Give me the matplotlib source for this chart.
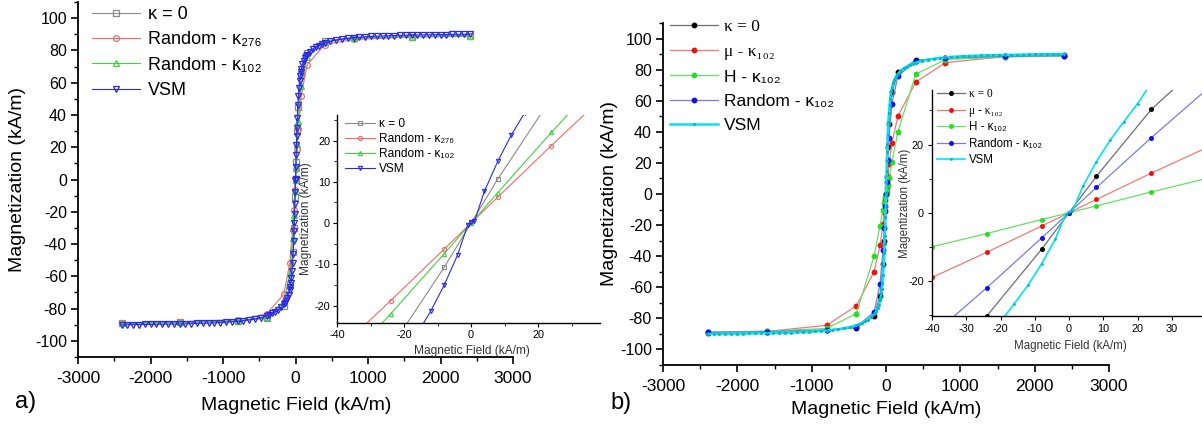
import matplotlib
matplotlib.use('Agg')
import matplotlib.pyplot as plt
from matplotlib.ticker import MultipleLocator

plt.rcParams['font.family'] = ['Liberation Sans', 'DejaVu Sans']
plt.rcParams['axes.unicode_minus'] = False

# ---------------- data ----------------
H_sim = [-2400, -1600, -800, -400, -160, -80, -40, -24, -8, 0,
         8, 24, 40, 80, 160, 400, 800, 1600, 2400]
M_k0 = [-89.2, -88.6, -87.6, -86.0, -78.5, -65.5, -45.0, -30.3, -10.7, 0.0,
        10.7, 30.3, 45.0, 65.5, 78.5, 86.0, 87.6, 88.6, 89.2]
M_rand276 = [-88.8, -88.2, -86.8, -83.5, -71.0, -52.0, -31.0, -18.8, -6.3, 0.0,
             6.3, 18.8, 31.0, 52.0, 71.0, 83.5, 86.8, 88.2, 88.8]
M_rand102 = [-89.0, -88.5, -87.5, -85.5, -76.0, -58.0, -36.0, -22.0, -7.4, 0.0,
             7.4, 22.0, 36.0, 58.0, 76.0, 85.5, 87.5, 88.5, 89.0]
M_mu102 = [-89.0, -88.4, -84.5, -72.0, -50.0, -33.0, -19.0, -11.6, -3.9, 0.0,
           3.9, 11.6, 19.0, 33.0, 50.0, 72.0, 84.5, 88.4, 89.0]
M_H102 = [-88.8, -88.2, -86.5, -77.0, -40.0, -20.5, -10.0, -6.1, -2.0, 0.0,
          2.0, 6.1, 10.0, 20.5, 40.0, 77.0, 86.5, 88.2, 88.8]

H_vsm = [-2400, -2320, -2240, -2160, -2080, -2000, -1920, -1840, -1760, -1680,
         -1600, -1520, -1440, -1360, -1280, -1200, -1120, -1040, -960, -880,
         -800, -720, -640, -560, -480, -400, -360, -320, -280, -240,
         -200, -160, -144, -128, -112, -96, -80, -72, -64, -56,
         -48, -40, -32, -24, -20, -16, -12, -8, -4, -1,
         0, 1, 4, 8, 12, 16, 20, 24, 32, 40,
         48, 56, 64, 72, 80, 96, 112, 128, 144, 160,
         200, 240, 280, 320, 360, 400, 480, 560, 640, 720,
         800, 880, 960, 1040, 1120, 1200, 1280, 1360, 1440, 1520,
         1600, 1680, 1760, 1840, 1920, 2000, 2080, 2160, 2240, 2320, 2400]
M_vsm = [-90.05, -90.0, -89.95, -89.9, -89.85, -89.8, -89.75, -89.7, -89.6, -89.55,
         -89.5, -89.4, -89.3, -89.2, -89.1, -88.95, -88.8, -88.65, -88.45, -88.2,
         -87.9, -87.5, -87.0, -86.4, -85.6, -84.5, -83.8, -83.0, -82.0, -80.8,
         -79.3, -77.3, -76.3, -75.0, -73.5, -71.5, -68.5, -66.5, -64.0, -61.0,
         -57.0, -52.0, -46.0, -38.0, -32.0, -26.7, -21.3, -15.0, -7.7, -0.5,
         0.3, 0.4, 7.7, 15.0, 21.3, 26.7, 32.0, 38.0, 46.0, 52.0,
         57.0, 61.0, 64.0, 66.5, 68.5, 71.5, 73.5, 75.0, 76.3, 77.3,
         79.3, 80.8, 82.0, 83.0, 83.8, 84.5, 85.6, 86.4, 87.0, 87.5,
         87.9, 88.2, 88.45, 88.65, 88.8, 88.95, 89.1, 89.2, 89.3, 89.4,
         89.5, 89.55, 89.6, 89.7, 89.75, 89.8, 89.85, 89.9, 89.95, 90.0, 90.05]

labels_a = ['κ = 0', 'Random - κ₂₇₆', 'Random - κ₁₀₂', 'VSM']
labels_b = ['κ = 0', 'μ - κ₁₀₂', 'H - κ₁₀₂', 'Random - κ₁₀₂', 'VSM']
serif_rows_b = [0, 1]

x_label = 'Magnetic Field (kA/m)'
y_label = 'Magnetization (kA/m)'
y_label_b_inset = 'Magentization (kA/m)'

# ---------------- layout helpers ----------------
W, Hpx = 1202, 426
fig = plt.figure(figsize=(W / 100, Hpx / 100), dpi=100)


def box(x0, x1, top, bottom):
    return [x0 / W, (Hpx - bottom) / Hpx, (x1 - x0) / W, (bottom - top) / Hpx]


def fx(x):
    return x / W


def fy(y):
    return 1 - y / Hpx


def style_axes(ax, lw=1.2):
    for s in ['top', 'right']:
        ax.spines[s].set_visible(False)
    for s in ['left', 'bottom']:
        ax.spines[s].set_linewidth(lw)


# series styles (left panel)
st_a = [dict(color='#8a8a8a', marker='s'), dict(color='#f06a6a', marker='o'),
        dict(color='#3fd23f', marker='^'), dict(color='#2a2ae8', marker='v')]
M_a = [M_k0, M_rand276, M_rand102, M_vsm]
H_a = [H_sim, H_sim, H_sim, H_vsm]

# ---------------- panel a: main ----------------
axa = fig.add_axes(box(78, 513, 2, 357))
style_axes(axa, 1.3)
for Hs, Ms, st, lab in zip(H_a, M_a, st_a, labels_a):
    axa.plot(Hs, Ms, color=st['color'], lw=0.8, marker=st['marker'], ms=4.2,
             mfc='none', mec=st['color'], mew=0.9, label=lab)
axa.set_xlim(-3000, 3000)
axa.set_ylim(-110, 110)
axa.xaxis.set_major_locator(MultipleLocator(1000))
axa.xaxis.set_minor_locator(MultipleLocator(500))
axa.yaxis.set_major_locator(MultipleLocator(20))
axa.yaxis.set_minor_locator(MultipleLocator(10))
axa.tick_params(axis='both', which='major', direction='out', length=5, width=1.2)
axa.tick_params(axis='both', which='minor', direction='out', length=3, width=1.0)
axa.tick_params(axis='x', labelsize=12.5, pad=5)
axa.tick_params(axis='y', labelsize=11.5, pad=3)
axa.set_xlabel(x_label, fontsize=14, va='center')
axa.set_ylabel(y_label, fontsize=14, va='center')
axa.xaxis.set_label_coords(fx(296), fy(405), transform=fig.transFigure)
axa.yaxis.set_label_coords(fx(18), fy(180), transform=fig.transFigure)
axa.legend(loc='upper left', bbox_to_anchor=(fx(92), fy(6)), bbox_transform=fig.transFigure,
           frameon=False, fontsize=13, borderpad=0, borderaxespad=0,
           handlelength=2.65, handletextpad=0.45, labelspacing=0.46)
fig.text(fx(26), fy(402), 'a)', fontsize=17, ha='center', va='center')

# ---------------- panel a: inset ----------------
axai = fig.add_axes(box(337, 600, 115, 323))
style_axes(axai, 1.0)
axai.set_facecolor('none')
for Hs, Ms, st, lab in zip(H_a, M_a, st_a, labels_a):
    axai.plot(Hs, Ms, color=st['color'], lw=0.8, marker=st['marker'], ms=3.0,
              mfc='none', mec=st['color'], mew=0.8, label=lab)
axai.set_xlim(-40, 38.5)
axai.set_ylim(-24.2, 26.2)
axai.xaxis.set_major_locator(MultipleLocator(20))
axai.xaxis.set_minor_locator(MultipleLocator(10))
axai.yaxis.set_major_locator(MultipleLocator(10))
axai.yaxis.set_minor_locator(MultipleLocator(5))
axai.tick_params(which='major', direction='out', length=3, width=0.8, labelsize=7.8, pad=2)
axai.tick_params(which='minor', direction='out', length=2, width=0.6)
axai.set_xlabel(x_label, fontsize=8.6, va='center', color='#333333')
axai.set_ylabel(y_label, fontsize=8.6, va='center', color='#333333')
axai.xaxis.set_label_coords(fx(472), fy(351), transform=fig.transFigure)
axai.yaxis.set_label_coords(fx(306), fy(219), transform=fig.transFigure)
axai.legend(loc='upper left', bbox_to_anchor=(fx(345), fy(118)), bbox_transform=fig.transFigure,
            frameon=False, fontsize=8.6, borderpad=0, borderaxespad=0,
            handlelength=2.5, handletextpad=0.35, labelspacing=0.26)

# ---------------- panel b ----------------
H_b = [H_sim, H_sim, H_sim, H_sim, H_vsm]
M_b = [M_k0, M_mu102, M_H102, M_rand102, M_vsm]
line_b = ['#6e6e6e', '#f07a7a', '#66e066', '#7a7ae6', '#00e5ee']
mark_b = ['#000000', '#ee1111', '#22e022', '#1010ee', '#00b8c8']
lw_b = [0.9, 0.9, 0.9, 0.9, 1.8]
ms_b = [3.2, 3.2, 3.2, 3.2, 1.2]

axb = fig.add_axes(box(663, 1109, 23, 365))
style_axes(axb, 1.3)
for Hs, Ms, lc, mc, lw, ms, lab in zip(H_b, M_b, line_b, mark_b, lw_b, ms_b, labels_b):
    axb.plot(Hs, Ms, color=lc, lw=lw, marker='o', ms=ms, mfc=mc, mec=mc, label=lab)
axb.set_xlim(-3000, 3000)
axb.set_ylim(-110, 110)
axb.xaxis.set_major_locator(MultipleLocator(1000))
axb.xaxis.set_minor_locator(MultipleLocator(500))
axb.yaxis.set_major_locator(MultipleLocator(20))
axb.yaxis.set_minor_locator(MultipleLocator(10))
axb.tick_params(axis='both', which='major', direction='out', length=5, width=1.2)
axb.tick_params(axis='both', which='minor', direction='out', length=3, width=1.0)
axb.tick_params(axis='x', labelsize=12.5, pad=5)
axb.tick_params(axis='y', labelsize=11.5, pad=3)
axb.set_xlabel(x_label, fontsize=14, va='center')
axb.set_ylabel(y_label, fontsize=14, va='center')
axb.xaxis.set_label_coords(fx(886), fy(410), transform=fig.transFigure)
axb.yaxis.set_label_coords(fx(610), fy(194), transform=fig.transFigure)
leg_b = axb.legend(loc='upper left', bbox_to_anchor=(fx(670), fy(19)), bbox_transform=fig.transFigure,
                   frameon=False, fontsize=12.5, borderpad=0, borderaxespad=0,
                   handlelength=2.75, handletextpad=0.35, labelspacing=0.52)
for i in serif_rows_b:
    leg_b.get_texts()[i].set_fontfamily(['Liberation Serif', 'DejaVu Serif'])
fig.text(fx(621), fy(403), 'b)', fontsize=17, ha='center', va='center')

axbi = fig.add_axes(box(932, 1202, 90, 316))
style_axes(axbi, 1.0)
axbi.set_facecolor('none')
for Hs, Ms, lc, mc, lw, ms, lab in zip(H_b, M_b, line_b, mark_b, lw_b, ms_b, labels_b):
    axbi.plot(Hs, Ms, color=lc, lw=min(lw, 1.2), marker='o', ms=ms * 0.8, mfc=mc, mec=mc, label=lab)
axbi.set_xlim(-40, 38.8)
axbi.set_ylim(-30.3, 36)
axbi.xaxis.set_major_locator(MultipleLocator(10))
axbi.yaxis.set_major_locator(MultipleLocator(20))
axbi.yaxis.set_minor_locator(MultipleLocator(10))
axbi.tick_params(which='major', direction='out', length=3, width=0.8, labelsize=7.8, pad=3)
axbi.tick_params(which='minor', direction='out', length=2, width=0.6)
axbi.set_xlabel(x_label, fontsize=8.3, va='center', color='#333333')
axbi.set_ylabel(y_label_b_inset, fontsize=8.3, va='center', color='#333333')
axbi.xaxis.set_label_coords(fx(1070), fy(346), transform=fig.transFigure)
axbi.yaxis.set_label_coords(fx(905), fy(203), transform=fig.transFigure)
leg_bi = axbi.legend(loc='upper left', bbox_to_anchor=(fx(937), fy(88)), bbox_transform=fig.transFigure,
                     frameon=False, fontsize=8.3, borderpad=0, borderaxespad=0,
                     handlelength=2.45, handletextpad=0.35, labelspacing=0.4)
for i in serif_rows_b:
    leg_bi.get_texts()[i].set_fontfamily(['Liberation Serif', 'DejaVu Serif'])

fig.savefig('out.png', dpi=100)
